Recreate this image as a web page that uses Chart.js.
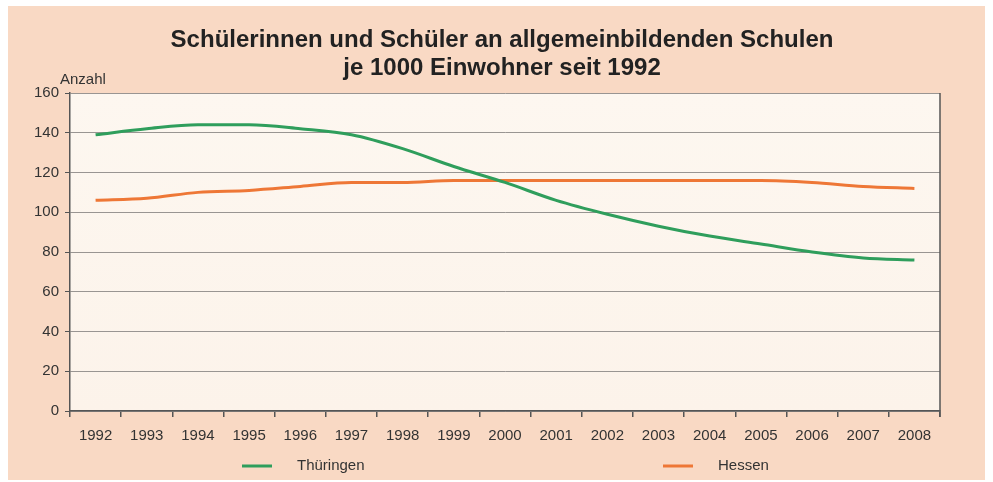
<!DOCTYPE html>
<html>
<head>
<meta charset="utf-8">
<script src="https://cdn.jsdelivr.net/npm/chart.js@4"></script>
<style>
  html, body { margin: 0; padding: 0; background: #fff; }
  #wrap { width: 993px; height: 482px; }
</style>
</head>
<body>
<div id="wrap"><canvas id="chart" width="993" height="482"></canvas></div>
<script>
const jahre = ["1992", "1993", "1994", "1995", "1996", "1997", "1998", "1999", "2000",
               "2001", "2002", "2003", "2004", "2005", "2006", "2007", "2008"];
const thueringen = [139, 142, 144, 144, 142, 139, 132, 123, 115, 106, 99, 93, 88, 84, 80, 77, 76];
const hessen = [106, 107, 110, 111, 113, 115, 115, 116, 116, 116, 116, 116, 116, 116, 115, 113, 112];
const titelZeilen = ["Schülerinnen und Schüler an allgemeinbildenden Schulen", "je 1000 Einwohner seit 1992"];

const FONT = "'Liberation Sans', Arial, sans-serif";

// background panel, plot fill, title, "Anzahl", right border and legend
const deko = {
    id: "deko",
    beforeDraw(chart) {
        const c = chart.ctx;
        const a = chart.chartArea;
        c.save();
        c.fillStyle = "#f9d9c4";
        c.fillRect(8, 6, 977, 474);
        const g = c.createLinearGradient(0, a.top, 0, a.bottom);
        g.addColorStop(0, "#fdf7f0");
        g.addColorStop(1, "#fcf3ea");
        c.fillStyle = g;
        c.fillRect(a.left, a.top, a.right - a.left, a.bottom - a.top);
        c.restore();
    },
    afterDraw(chart) {
        const c = chart.ctx;
        const a = chart.chartArea;
        c.save();
        c.strokeStyle = "#555";
        c.lineWidth = 1.5;
        c.beginPath();
        c.moveTo(a.right, a.top);
        c.lineTo(a.right, a.bottom + 6);
        c.stroke();

        c.fillStyle = "#222";
        c.textAlign = "center";
        c.textBaseline = "middle";
        c.font = "bold 24px " + FONT;
        c.fillText(titelZeilen[0], 502, 40);
        c.fillText(titelZeilen[1], 502, 68);

        c.textAlign = "left";
        c.font = "15px " + FONT;
        c.fillStyle = "#333";
        c.fillText("Anzahl", 60, 80);

        const eintraege = [
            { x: 242, ds: chart.data.datasets[0] },
            { x: 663, ds: chart.data.datasets[1] }
        ];
        c.font = "15px " + FONT;
        eintraege.forEach(e => {
            c.strokeStyle = e.ds.borderColor;
            c.lineWidth = 3;
            c.beginPath();
            c.moveTo(e.x, 466);
            c.lineTo(e.x + 30, 466);
            c.stroke();
            c.fillStyle = "#333";
            c.fillText(e.ds.label, e.x + 55, 466);
        });
        c.restore();
    }
};

new Chart(document.getElementById("chart"), {
    type: "line",
    data: {
        labels: jahre,
        datasets: [
            { label: "Thüringen", data: thueringen, borderColor: "#2f9e5c", borderWidth: 3,
              pointRadius: 0, cubicInterpolationMode: "monotone" },
            { label: "Hessen", data: hessen, borderColor: "#ee7736", borderWidth: 3,
              pointRadius: 0, cubicInterpolationMode: "monotone" }
        ]
    },
    options: {
        responsive: false,
        animation: false,
        layout: { padding: { top: 93, right: 53, left: 0, bottom: 0 } },
        plugins: { legend: { display: false }, title: { display: false }, tooltip: { enabled: false } },
        scales: {
            x: {
                offset: true,
                grid: { offset: true, drawOnChartArea: false, drawTicks: true, tickLength: 6,
                        color: "#555", lineWidth: 1.5 },
                border: { color: "#555", width: 1.5 },
                ticks: { color: "#333", font: { family: FONT, size: 15 }, padding: 10, maxRotation: 0 },
                afterFit(s) { s.height = 71; }
            },
            y: {
                min: 0, max: 160,
                grid: { color: "#999592", lineWidth: 1, tickLength: 5, tickColor: "#555" },
                border: { color: "#555", width: 1.5 },
                ticks: { stepSize: 20, color: "#333", font: { family: FONT, size: 15 }, padding: 6 },
                afterFit(s) { s.width = 70; }
            }
        }
    },
    plugins: [deko]
});
</script>
</body>
</html>
